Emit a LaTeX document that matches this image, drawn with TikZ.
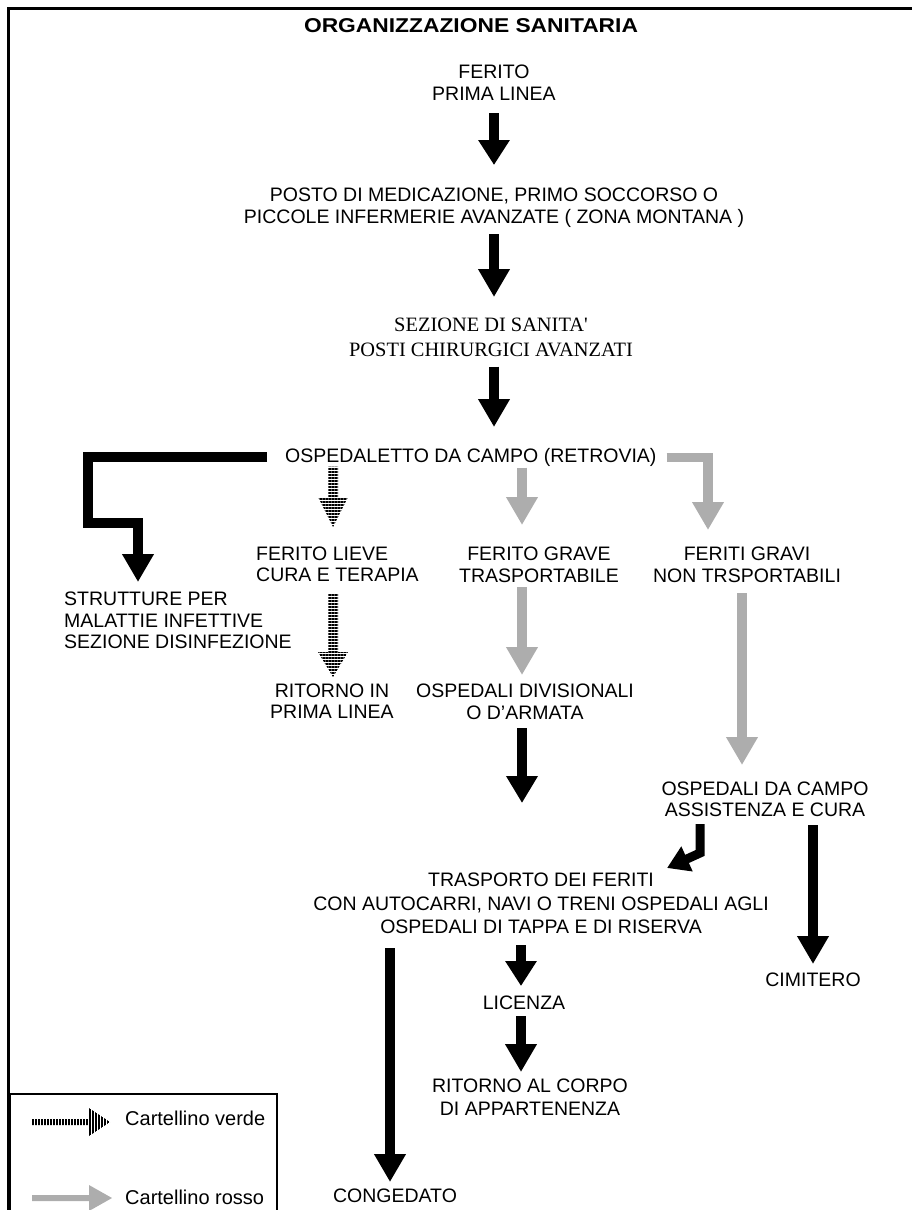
\documentclass[tikz,border=0pt]{standalone}
\usepackage{fontspec}
\setmainfont{Liberation Sans}
\newfontfamily\serifa{Liberation Serif}
\newfontfamily\titolofont{Liberation Sans}[FakeStretch=1.14]
\usepackage{tikz}
\usetikzlibrary{arrows.meta,patterns.meta,calc}
\definecolor{grigiofr}{gray}{0.68}
\newcommand{\frecciaverde}[3]{%
  \fill[righe] ($(#1)+(-5,0)$) -- ($(#2)+(-5,-#3)$) -- ($(#2)+(-15,-#3)$) -- (#2)
    -- ($(#2)+(15,-#3)$) -- ($(#2)+(5,-#3)$) -- ($(#1)+(5,0)$) -- cycle;}

\begin{document}
\begin{tikzpicture}[x=1pt,y=-1pt,
  testo/.style={inner sep=0pt, align=center, font=\fontsize{19.5}{#1}\selectfont},
  testo/.default=22,
  nero/.style={line width=10pt, -{Triangle[width=30pt,length=#1pt]}},
  nero/.default=28,
  grigio/.style={line width=9.5pt, grigiofr, -{Triangle[width=30pt,length=28pt]}},
  righe/.style={pattern={Lines[angle=#1,distance=3pt,line width=1.7pt]}},
  righe/.default=0]
  \useasboundingbox (0,0) rectangle (912,1210);
  \draw[line width=2.5pt] (8.5,1215) -- (8.5,8.5) -- (915,8.5);

  \node[inner sep=0pt, font=\titolofont\fontsize{20}{24}\bfseries\selectfont] (titolo) at (471,25.5) {ORGANIZZAZIONE SANITARIA};
  \node[testo, anchor=north] (ferito) at (494,65) {FERITO\\PRIMA LINEA};
  \node[testo, anchor=north] (posto) at (494,188) {POSTO DI MEDICAZIONE, PRIMO SOCCORSO O\\PICCOLE INFERMERIE AVANZATE ( ZONA MONTANA )};
  \node[testo, anchor=north, font=\serifa\fontsize{20.4}{25}\selectfont] (sezione) at (491,318) {SEZIONE DI SANITA'\\POSTI CHIRURGICI AVANZATI};
  \node[testo, anchor=north west] (osped) at (285,448) {OSPEDALETTO DA CAMPO (RETROVIA)};
  \node[testo=21.5, anchor=north west, align=left] (strutture) at (64,592) {STRUTTURE PER\\MALATTIE INFETTIVE\\SEZIONE DISINFEZIONE};
  \node[testo=20.5, anchor=north west, align=left] (lieve) at (256,547) {FERITO LIEVE\\CURA E TERAPIA};
  \node[testo, anchor=north] (grave) at (539,547) {FERITO GRAVE\\TRASPORTABILE};
  \node[testo, anchor=north] (gravi) at (747,547) {FERITI GRAVI\\NON TRSPORTABILI};
  \node[testo=21, anchor=north] (ritorno) at (332,684) {RITORNO IN\\PRIMA LINEA};
  \node[testo, anchor=north] (divisionali) at (525,684) {OSPEDALI DIVISIONALI\\O D'ARMATA};
  \node[testo=21, anchor=north] (campo) at (765,782) {OSPEDALI DA CAMPO\\ASSISTENZA E CURA};
  \node[testo=23.5, anchor=north] (trasporto) at (541,873) {TRASPORTO DEI FERITI\\CON AUTOCARRI, NAVI O TRENI OSPEDALI AGLI\\OSPEDALI DI TAPPA E DI RISERVA};
  \node[testo, anchor=north] (licenza) at (524,996) {LICENZA};
  \node[testo=23, anchor=north] (corpo) at (530,1079) {RITORNO AL CORPO\\DI APPARTENENZA};
  \node[testo, anchor=north] (cimitero) at (813,973) {CIMITERO};
  \node[testo, anchor=north] (congedato) at (395,1189) {CONGEDATO};

  % colonne delle frecce
  \coordinate (colV) at (333,0);
  \coordinate (colG) at (522,0);
  \coordinate (colR) at (708,0);
  \coordinate (colC) at (742,0);
  \coordinate (colK) at (390,0);
  \coordinate (colL) at (521,0);
  \coordinate (gomitoA) at (88,523);
  \coordinate (gomitoB) at (138,523);
  \coordinate (svolta) at (700,853);
  \coordinate (svoltafine) at (667,868);

  \draw[nero=25, shorten <=12pt, shorten >=23pt] (ferito.south) -- (posto.north);
  \draw[nero, shorten <=6pt, shorten >=21pt] (posto.south) -- (posto.south |- sezione.north);
  \draw[nero, shorten <=9.5pt, shorten >=21pt] (posto.south |- sezione.south) -- (posto.south |- osped.north);
  \draw[nero, shorten <=18pt, shorten >=10pt] (osped.west) -| (gomitoA) -- (gomitoB) -- (gomitoB |- strutture.north);

  \coordinate (v1a) at (colV |- osped.south);
  \coordinate (v1b) at ($(colV |- lieve.north)+(0,-20)$);
  \frecciaverde{v1a}{v1b}{30}
  \coordinate (v2a) at ($(colV |- lieve.south)+(0,12.5)$);
  \coordinate (v2b) at ($(colV |- ritorno.north)+(0,-7)$);
  \frecciaverde{v2a}{v2b}{25}

  \draw[grigio, shorten <=1pt, shorten >=22pt] (colG |- osped.south) -- (colG |- grave.north);
  \draw[grigio, shorten <=10pt, shorten >=17pt] (osped.east) -| (colR |- gravi.north);
  \draw[grigio, shorten <=4pt, shorten >=9pt] (colG |- grave.south) -- (colG |- divisionali.north);
  \draw[grigio, shorten <=10pt, shorten >=17pt] (colC |- gravi.south) -- (colC |- campo.north);
  \draw[nero=27, shorten <=8pt, shorten >=70pt] (colG |- divisionali.south) -- (colG |- trasporto.north);

  \draw[line width=9pt, -{Triangle[width=26pt,length=22pt]}, shorten <=7pt] (svolta |- campo.south) -- (svolta) -- (svoltafine);
  \draw[nero, shorten <=8pt, shorten >=9pt] (cimitero.north |- campo.south) -- (cimitero.north);
  \draw[nero, shorten <=14pt, shorten >=7pt] (colK |- trasporto.south) -- (colK |- congedato.north);
  \draw[nero=25, shorten <=11pt, shorten >=10pt] (colL |- trasporto.south) -- (colL |- licenza.north);
  \draw[nero, shorten <=6pt, shorten >=7pt] (colL |- licenza.south) -- (colL |- corpo.north);

  % legenda
  \draw[line width=2pt] (10,1215) -- (10,1094) -- (277,1094) -- (277,1215);
  \node[testo, anchor=west, font=\fontsize{20}{24}\selectfont] (verde) at (125,1118) {Cartellino verde};
  \node[testo, anchor=west, font=\fontsize{20}{24}\selectfont] (rosso) at (125,1197) {Cartellino rosso};
  \fill[righe=90] (32,1119) -- (89,1119) -- (89,1108) -- (110,1122) -- (89,1136) -- (89,1125) -- (32,1125) -- cycle;
  \fill[grigiofr] (32,1195) -- (89,1195) -- (89,1185) -- (112,1198) -- (89,1211) -- (89,1201) -- (32,1201) -- cycle;
\end{tikzpicture}
\end{document}
